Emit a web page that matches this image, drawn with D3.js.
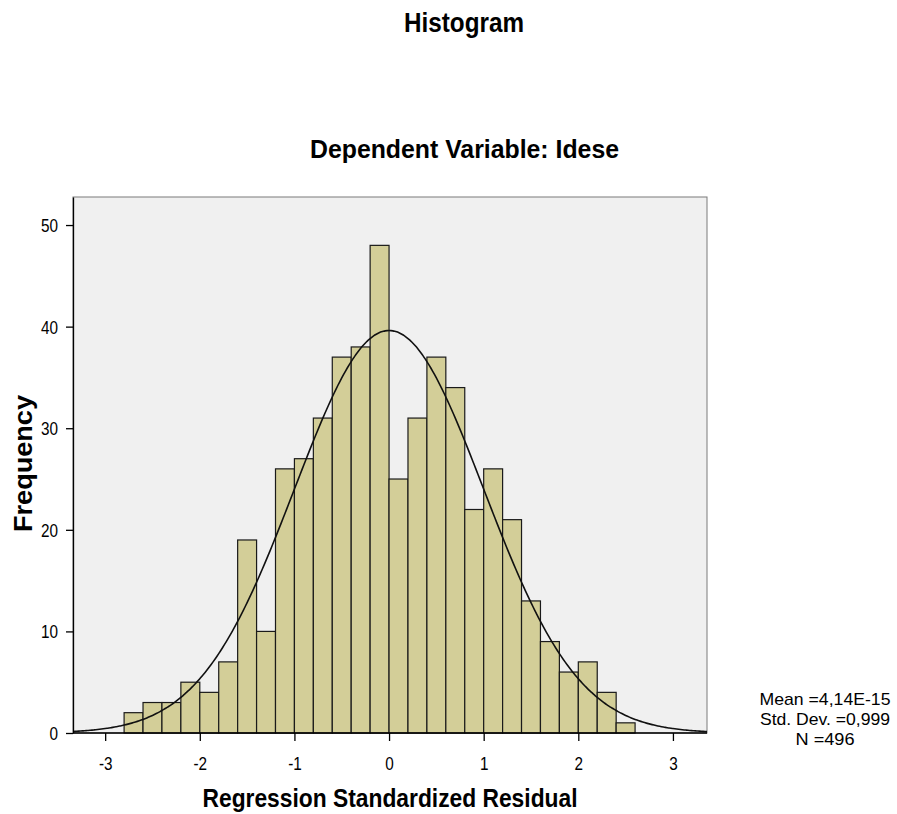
<!DOCTYPE html>
<html>
<head>
<meta charset="utf-8">
<script src="https://cdn.jsdelivr.net/npm/d3@7"></script>
<style>
  html, body { margin: 0; padding: 0; background: #fff; }
  svg { display: block; }
  text { font-family: "Liberation Sans", Arial, sans-serif; }
</style>
</head>
<body>
<svg id="chart" width="897" height="814"></svg>
<script>
// ---- data ----
const binStart = -2.8;
const binWidth = 0.2;
const counts = [2, 3, 3, 5, 4, 7, 19, 10, 26, 27, 31, 37, 38, 48, 25, 31, 37, 34, 22, 26, 21, 13, 9, 6, 7, 4, 1];
const xTicks = [-3, -2, -1, 0, 1, 2, 3];
const yTicks = [0, 10, 20, 30, 40, 50];
const statMean = 4.14e-15;
const statSD = 0.999;
const statN = 496;
const statLabels = ["Mean =4,14E-15", "Std. Dev. =0,999", "N =496"];
const title = "Histogram";
const subtitle = "Dependent Variable: Idese";
const xLabel = "Regression Standardized Residual";
const yLabel = "Frequency";

// ---- layout ----
const svg = d3.select("#chart");
const plot = { left: 73, right: 707, top: 197, bottom: 733 };
const SX = 0.85; // horizontal condensing of the text

const x = d3.scaleLinear().domain([-3.34, 3.36]).range([plot.left, plot.right]);
const y = d3.scaleLinear().domain([0, 52.76]).range([plot.bottom, plot.top]);

// background
svg.append("rect")
  .attr("x", plot.left).attr("y", plot.top)
  .attr("width", plot.right - plot.left).attr("height", plot.bottom - plot.top)
  .attr("fill", "#f0f0f0")
  .attr("stroke", "#7a7a7a").attr("stroke-width", 1);

// bars
const bins = counts.map((c, i) => ({ x0: binStart + i * binWidth, x1: binStart + (i + 1) * binWidth, c }));
svg.append("g").selectAll("rect").data(bins).join("rect")
  .attr("x", d => x(d.x0))
  .attr("y", d => y(d.c))
  .attr("width", d => x(d.x1) - x(d.x0))
  .attr("height", d => y(0) - y(d.c))
  .attr("fill", "#d3ce98")
  .attr("stroke", "#1a1a1a")
  .attr("stroke-width", 1.2);

// normal curve from stats
const pdfScale = statN * binWidth / (statSD * Math.sqrt(2 * Math.PI));
const curvePts = d3.range(-3.34, 3.361, 0.02).map(v => [v, pdfScale * Math.exp(-0.5 * Math.pow((v - statMean) / statSD, 2))]);
svg.append("path")
  .datum(curvePts)
  .attr("fill", "none")
  .attr("stroke", "#111")
  .attr("stroke-width", 1.6)
  .attr("d", d3.line().x(d => x(d[0])).y(d => y(d[1])).curve(d3.curveBasis));

// axes
const yAxis = svg.append("g")
  .attr("transform", `translate(${plot.left},0)`)
  .call(d3.axisLeft(y).tickValues(yTicks).tickSize(7).tickSizeOuter(0).tickPadding(0).tickFormat(d => String(d)));
yAxis.select(".domain").attr("stroke", "#000").attr("stroke-width", 1.3);
yAxis.selectAll(".tick line").attr("stroke", "#000").attr("stroke-width", 1.3);
yAxis.selectAll(".tick text")
  .attr("font-size", 18).attr("fill", "#000")
  .attr("x", -15 / SX).attr("dy", "0.36em")
  .attr("transform", `scale(${SX},1)`);

const xAxis = svg.append("g")
  .attr("transform", `translate(0,${plot.bottom})`)
  .call(d3.axisBottom(x).tickValues(xTicks).tickSize(8).tickSizeOuter(0).tickFormat(d => String(d)));
xAxis.select(".domain").attr("stroke", "#000").attr("stroke-width", 1.3).attr("d", `M${plot.left},0H${plot.right}`);
xAxis.selectAll(".tick line").attr("stroke", "#000").attr("stroke-width", 1.3);
xAxis.selectAll(".tick text")
  .attr("font-size", 18).attr("fill", "#000")
  .attr("y", 37).attr("dy", 0)
  .attr("transform", `scale(${SX},1)`);

// titles (sized to the reference widths)
function addText(txt, cx, cy, size, len, rotate) {
  const t = svg.append("text")
    .attr("text-anchor", "middle")
    .attr("font-size", size).attr("font-weight", "bold")
    .attr("textLength", len).attr("lengthAdjust", "spacingAndGlyphs")
    .text(txt);
  if (rotate) t.attr("transform", `translate(${cx},${cy}) rotate(-90)`);
  else t.attr("x", cx).attr("y", cy);
  return t;
}
addText(title, 464, 32, 27, 120);
addText(subtitle, 464.5, 158, 26, 309);
addText(xLabel, 390, 807, 25, 375);
addText(yLabel, 32, 463.5, 26, 137, true);

// stats box
svg.append("g").selectAll("text").data(statLabels).join("text")
  .attr("x", 825)
  .attr("y", (d, i) => 705 + i * 20)
  .attr("text-anchor", "middle")
  .attr("font-size", 17)
  .attr("textLength", (d, i) => [131, 130, 59][i])
  .attr("lengthAdjust", "spacingAndGlyphs")
  .text(d => d);
</script>
</body>
</html>
